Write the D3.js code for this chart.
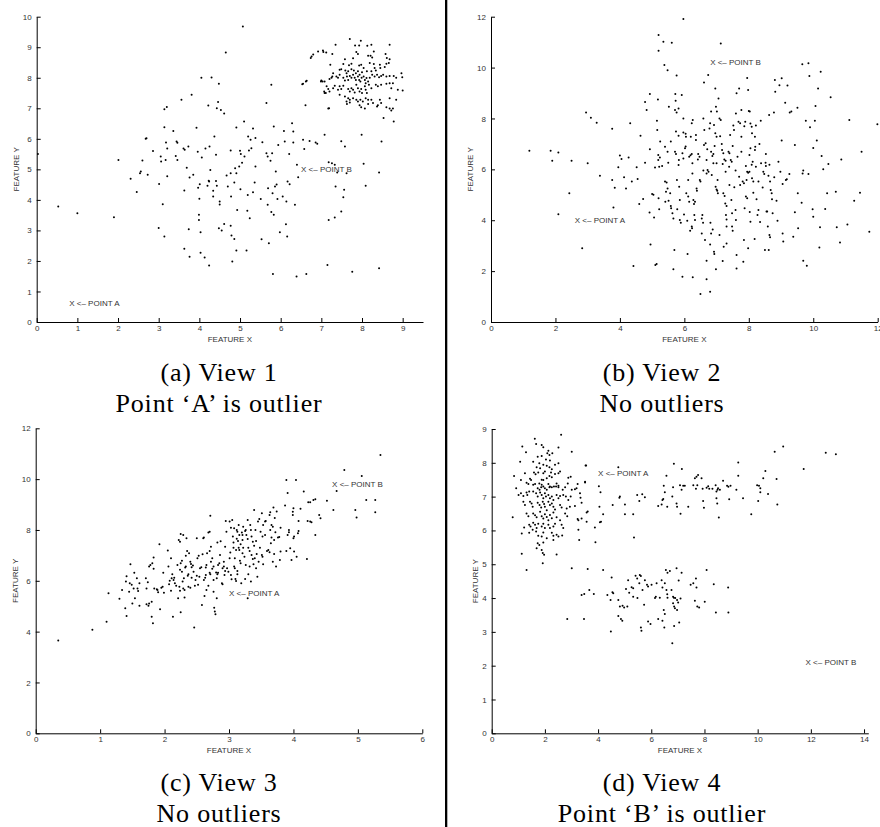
<!DOCTYPE html>
<html>
<head>
<meta charset="utf-8">
<script src="https://cdn.jsdelivr.net/npm/d3@7"></script>
<style>
  body { margin: 0; background: #fff; }
  svg { display: block; }
</style>
</head>
<body>
<svg id="fig" width="880" height="827"></svg>
<script>
// view 1: wide blob plus a tight cluster at the top right
var view1Points = [
  [0.03,5.5],[0.53,3.78],[1.0,3.56],[1.9,3.43],[2.01,5.31],[2.31,4.69],[2.46,4.26],[2.54,4.87],[2.56,4.93],[2.6,5.29],
  [2.7,6.02],[2.68,6.0],[2.73,4.82],[2.86,5.6],[3.01,4.52],[3.0,3.08],[3.05,5.42],[3.06,5.26],[3.1,3.86],[3.14,6.38],
  [3.14,2.8],[3.14,6.97],[3.2,7.04],[3.17,5.31],[3.18,5.88],[3.21,5.68],[3.21,4.77],[3.36,6.26],[3.44,5.91],[3.46,5.87],
  [3.42,5.44],[3.46,5.31],[3.56,7.28],[3.61,5.68],[3.64,5.64],[3.63,4.31],[3.63,2.4],[3.69,5.05],[3.73,5.75],[3.74,3.04],
  [3.76,4.73],[3.76,2.14],[3.81,7.44],[3.85,4.82],[3.93,6.36],[3.96,5.58],[3.97,4.4],[3.99,3.51],[3.99,3.34],[4.0,4.04],
  [4.01,4.51],[4.03,2.94],[4.03,2.27],[4.05,8.0],[4.06,5.39],[4.13,2.11],[4.15,5.68],[4.2,4.46],[4.22,7.09],[4.23,4.63],
  [4.24,4.6],[4.24,1.85],[4.25,5.75],[4.27,4.98],[4.3,8.01],[4.34,4.3],[4.34,4.11],[4.37,6.08],[4.41,5.48],[4.41,4.62],
  [4.43,4.46],[4.43,7.0],[4.46,7.21],[4.48,7.8],[4.48,3.07],[4.5,3.95],[4.5,3.85],[4.53,6.94],[4.55,3.0],[4.61,6.83],
  [4.61,3.21],[4.65,8.83],[4.67,4.8],[4.7,4.44],[4.77,5.62],[4.77,4.87],[4.77,3.15],[4.78,4.11],[4.79,2.83],[4.81,1.98],
  [4.86,2.72],[4.86,4.57],[4.88,5.04],[4.91,2.34],[4.91,6.37],[4.91,4.87],[4.93,3.67],[4.98,5.09],[5.0,5.61],[5.02,5.5],
  [5.01,4.35],[5.05,5.22],[5.07,9.68],[5.1,6.57],[5.11,5.42],[5.16,2.34],[5.18,3.64],[5.2,6.08],[5.19,4.16],[5.22,5.62],
  [5.24,3.4],[5.26,5.97],[5.28,5.69],[5.32,4.25],[5.32,6.34],[5.36,4.57],[5.38,6.03],[5.38,5.09],[5.51,4.03],[5.53,2.71],
  [5.55,5.89],[5.65,7.17],[5.65,5.53],[5.68,5.42],[5.68,3.84],[5.69,4.38],[5.71,2.58],[5.75,5.28],[5.77,3.6],[5.77,7.77],
  [5.79,5.53],[5.8,4.22],[5.81,1.57],[5.83,6.4],[5.83,3.51],[5.86,4.44],[5.88,4.93],[5.9,4.5],[5.92,4.03],[5.94,5.8],
  [5.98,2.94],[6.05,4.11],[6.08,6.26],[6.1,5.91],[6.13,3.2],[6.14,3.95],[6.16,2.8],[6.17,4.6],[6.21,5.5],[6.22,4.51],
  [6.28,6.51],[6.31,6.24],[6.31,5.88],[6.35,3.84],[6.39,1.49],[6.4,5.15],[6.43,4.74],[6.55,5.97],[6.58,5.67],[6.61,7.1],
  [6.63,1.57],[6.71,5.93],[6.86,5.88],[6.9,5.84],[7.08,6.13],[7.18,5.23],[7.26,5.2],[7.33,5.15],[7.18,3.34],[7.15,1.87],
  [7.33,3.42],[7.35,4.44],[7.39,4.9],[7.49,5.92],[7.49,3.62],[7.54,4.09],[7.56,4.33],[7.58,5.75],[7.62,4.87],[7.76,1.65],
  [7.99,6.13],[8.04,5.18],[8.09,4.46],[8.42,4.9],[8.42,1.76],[8.48,5.91],[8.53,6.68],[8.78,6.57],
  [6.53,7.79],[6.64,7.9],[7.08,7.5],[7.19,7.0],[7.05,8.84],[6.99,7.88],
  [7.70,9.27],[7.97,9.21],[7.83,9.06],[7.93,9.06],[7.35,9.08],[8.13,9.05],[8.23,9.08],[8.68,9.08],[8.29,8.86],[7.04,8.89],
  [7.12,8.83],[7.27,8.78],[6.92,8.86],[6.80,8.76],[6.76,8.7],[6.74,8.65],[7.86,8.84],[7.9,8.78],[7.78,8.64],[8.15,8.72],
  [8.21,8.72],[8.25,8.66],[8.58,8.78],[8.61,8.65],[8.68,8.61],[7.58,8.61],[7.22,8.43],[7.54,8.45],[7.68,8.41],[7.74,8.46],
  [7.93,8.4],[7.98,8.43],[8.04,8.32],[8.19,8.48],[8.29,8.45],[8.31,8.32],[8.44,8.43],[8.45,8.32],[8.56,8.35],[8.6,8.46],
  [8.66,8.48],[7.45,8.26],[7.49,8.28],[7.59,8.24],[7.62,8.15],[7.66,8.21],[7.74,8.28],[7.8,8.24],[7.85,8.15],[7.9,8.21],
  [7.94,8.1],[8.0,8.18],[8.12,8.21],[8.23,8.21],[8.34,8.24],[7.29,8.15],[7.27,8.04],[7.08,7.88],[7.03,7.88],[7.0,7.91],
  [7.2,7.96],[7.25,8.0],[7.37,8.04],[7.41,8.0],[7.45,8.1],[7.54,8.0],[7.58,7.91],[7.63,8.04],[7.66,7.93],[7.7,8.06],
  [7.74,8.0],[7.78,8.1],[7.82,8.0],[7.85,7.93],[7.9,8.04],[7.93,7.93],[7.96,7.88],[7.99,8.0],[8.04,8.04],[8.07,7.93],
  [8.09,7.82],[8.11,7.99],[8.15,7.88],[8.19,8.0],[8.25,8.1],[8.31,8.04],[8.37,8.1],[8.42,8.02],[8.47,8.06],[8.52,8.1],
  [8.6,8.04],[8.68,8.06],[8.78,8.06],[8.84,8.0],[8.97,8.15],[8.99,8.02],[6.62,7.88],[6.55,7.8],[7.13,7.72],[7.17,7.63],
  [7.29,7.66],[7.33,7.74],[7.41,7.61],[7.45,7.72],[7.49,7.63],[7.54,7.74],[7.66,7.63],[7.7,7.55],[7.74,7.66],[7.78,7.61],
  [7.82,7.52],[7.86,7.77],[7.9,7.66],[7.94,7.55],[7.98,7.63],[8.0,7.5],[8.07,7.72],[8.09,7.61],[8.12,7.5],[8.17,7.77],
  [8.23,7.66],[8.34,7.77],[8.39,7.72],[8.47,7.77],[8.6,7.8],[8.68,7.82],[8.76,7.82],[8.72,7.66],[8.88,7.61],[9.0,7.58],
  [7.07,7.55],[7.11,7.5],[7.2,7.55],[7.45,7.44],[7.58,7.39],[7.66,7.33],[7.7,7.28],[7.78,7.33],[7.86,7.28],[7.9,7.22],
  [7.96,7.28],[8.02,7.22],[8.09,7.33],[8.15,7.28],[8.23,7.28],[8.27,7.17],[8.44,7.28],[8.47,7.17],[8.68,7.33],[8.84,7.28],
  [7.17,6.99],[7.62,7.22],[7.63,7.14],[7.7,7.19],[7.94,7.1],[7.98,7.03],[8.07,6.99],[8.15,7.14],[8.37,7.06],[8.39,7.1],
  [8.6,7.03],[8.68,6.99],[8.72,6.93],[8.76,6.99]
];

// view 2: one broad round cloud
var view2Points = [
  [1.19,6.73],[1.85,6.73],[1.9,6.34],[2.09,6.66],[2.09,4.24],[2.43,5.06],[2.5,6.34],[2.83,2.9],[2.95,8.23],[3.0,6.24],
  [3.1,8.03],[3.28,7.83],[3.38,5.75],[3.76,7.6],[3.76,5.58],[3.8,4.5],[3.84,5.28],[3.95,6.08],[4.0,6.54],[4.05,6.41],
  [4.13,5.69],[4.19,5.25],[4.27,6.47],[4.32,7.81],[4.37,5.52],[4.42,2.2],[4.52,6.08],[4.55,5.62],[4.6,4.64],[4.64,7.32],
  [4.72,4.83],[4.78,8.65],[4.83,8.33],[4.78,6.26],[4.92,4.3],[4.93,6.79],[4.93,8.96],[4.95,3.05],[5.0,5.03],[5.04,5.0],
  [5.06,4.11],[5.09,6.07],[5.1,2.24],[5.14,2.28],[5.15,7.91],[5.16,7.55],[5.18,8.75],[5.2,11.28],[5.2,10.66],[5.19,6.56],
  [5.22,6.1],[5.19,6.37],[5.24,6.47],[5.2,4.86],[5.22,4.43],[5.25,7.09],[5.31,6.13],[5.35,11.02],[5.38,10.1],[5.4,6.89],
  [5.4,5.52],[5.45,5.48],[5.48,5.25],[5.43,5.12],[5.41,4.73],[5.48,9.9],[5.48,6.69],[5.5,6.26],[5.51,4.77],[5.52,8.46],
  [5.56,5.06],[5.58,7.09],[5.58,4.56],[5.59,4.47],[5.61,10.98],[5.63,4.27],[5.66,4.07],[5.66,2.07],[5.69,2.83],[5.71,8.33],
  [5.71,6.69],[5.74,6.6],[5.72,8.96],[5.73,8.7],[5.74,7.49],[5.76,9.69],[5.76,8.23],[5.77,5.58],[5.78,4.43],[5.82,7.32],
  [5.82,8.39],[5.83,6.37],[5.82,6.17],[5.84,5.32],[5.86,4.8],[5.86,4.01],[5.89,3.9],[5.92,8.92],[5.94,6.63],[5.97,6.43],
  [5.94,1.78],[5.97,11.91],[5.97,8.0],[5.97,7.45],[5.99,4.23],[6.02,6.83],[6.04,6.9],[6.04,7.4],[6.05,7.28],[6.06,5.06],
  [6.09,3.98],[6.1,2.67],[6.12,5.58],[6.12,4.93],[6.15,4.73],[6.15,6.5],[6.19,6.55],[6.18,3.59],[6.2,7.28],[6.23,7.81],
  [6.26,7.94],[6.23,3.75],[6.24,3.68],[6.23,6.6],[6.25,6.24],[6.25,5.84],[6.26,1.76],[6.28,4.8],[6.3,4.64],[6.33,4.73],
  [6.31,4.21],[6.33,4.01],[6.36,7.35],[6.36,7.15],[6.38,5.25],[6.39,5.16],[6.42,6.39],[6.43,6.6],[6.47,6.5],[6.48,5.58],
  [6.5,5.52],[6.5,1.1],[6.54,4.07],[6.54,3.48],[6.56,4.21],[6.58,3.9],[6.59,8.0],[6.61,9.41],[6.61,6.96],[6.59,5.95],
  [6.62,7.55],[6.64,3.22],[6.66,7.03],[6.69,5.84],[6.69,6.37],[6.69,2.41],[6.69,1.68],[6.71,6.79],[6.72,5.97],[6.75,5.91],
  [6.74,9.71],[6.78,7.61],[6.8,7.81],[6.8,3.05],[6.8,1.19],[6.81,3.9],[6.83,3.48],[6.83,8.27],[6.83,6.69],[6.87,6.52],
  [6.9,6.6],[6.85,5.78],[6.9,6.24],[6.88,3.64],[6.92,2.76],[6.93,2.67],[6.92,7.74],[6.94,6.92],[6.96,9.18],[6.96,7.42],
  [7.0,7.28],[6.97,5.32],[7.0,5.21],[7.02,5.16],[7.04,5.06],[6.98,8.46],[7.01,8.27],[6.98,2.07],[7.0,6.24],[7.03,5.58],
  [7.06,8.78],[7.09,8.0],[7.13,7.94],[7.09,3.42],[7.11,7.3],[7.13,10.95],[7.16,7.0],[7.17,6.76],[7.21,6.63],[7.19,6.21],
  [7.19,2.4],[7.21,5.06],[7.25,4.95],[7.22,2.96],[7.24,6.39],[7.28,6.34],[7.27,4.66],[7.31,4.56],[7.28,5.91],[7.29,4.21],
  [7.31,4.03],[7.31,3.09],[7.31,3.75],[7.37,6.69],[7.4,6.63],[7.39,6.1],[7.4,5.38],[7.42,7.35],[7.44,6.37],[7.47,6.3],
  [7.46,4.8],[7.48,4.27],[7.48,3.75],[7.5,3.59],[7.5,6.92],[7.52,7.72],[7.54,7.55],[7.55,5.3],[7.59,5.95],[7.59,4.4],
  [7.6,4.01],[7.6,8.2],[7.62,2.63],[7.62,2.1],[7.62,8.99],[7.7,9.18],[7.65,6.5],[7.68,7.87],[7.73,7.81],[7.77,8.33],
  [7.7,5.71],[7.73,5.38],[7.77,7.28],[7.77,6.69],[7.81,5.52],[7.85,5.45],[7.83,2.37],[7.85,3.22],[7.86,7.69],[7.89,7.87],
  [7.87,4.47],[7.91,4.93],[7.95,4.86],[7.91,6.13],[7.93,5.58],[7.95,9.59],[7.95,5.91],[7.98,5.87],[8.02,5.91],[7.98,2.9],
  [7.98,9.12],[8.0,8.29],[8.03,8.27],[8.02,6.56],[8.05,6.83],[8.03,4.32],[8.05,3.94],[8.05,7.8],[8.09,7.67],[8.09,6.18],
  [8.12,6.3],[8.1,5.65],[8.14,5.52],[8.1,7.42],[8.14,5.08],[8.18,3.26],[8.19,7.28],[8.22,7.72],[8.2,6.89],[8.19,6.76],
  [8.22,6.1],[8.24,4.82],[8.27,4.21],[8.3,4.4],[8.3,5.52],[8.33,7.0],[8.35,3.93],[8.37,7.91],[8.38,6.24],[8.43,5.29],
  [8.45,5.91],[8.48,5.82],[8.5,2.83],[8.52,6.26],[8.53,6.13],[8.53,6.6],[8.55,4.34],[8.57,4.34],[8.59,3.75],[8.61,5.75],
  [8.62,2.83],[8.63,8.14],[8.64,6.18],[8.66,5.52],[8.64,3.42],[8.66,3.33],[8.68,5.19],[8.71,5.06],[8.72,4.82],[8.74,4.27],
  [8.78,8.23],[8.79,5.69],[8.81,9.51],[8.82,9.05],[8.86,4.77],[8.89,3.98],[8.92,6.3],[8.95,9.31],[8.98,5.91],[9.02,9.58],
  [9.02,7.13],[9.05,5.42],[9.05,3.48],[9.07,3.16],[9.13,8.62],[9.15,5.58],[9.18,5.61],[9.2,9.3],[9.27,8.23],[9.32,8.27],
  [9.26,5.82],[9.38,3.35],[9.43,6.96],[9.43,4.31],[9.51,8.42],[9.52,5.06],[9.53,3.68],[9.64,4.69],[9.66,10.13],[9.67,5.84],
  [9.69,5.95],[9.69,2.41],[9.77,7.91],[9.8,2.21],[9.85,10.17],[9.85,5.82],[9.88,9.67],[9.9,7.65],[9.98,4.43],[10.0,4.14],
  [10.0,6.84],[10.05,7.91],[10.07,8.49],[10.11,7.13],[10.15,9.18],[10.19,2.93],[10.21,3.72],[10.23,9.84],[10.26,6.52],[10.31,6.0],
  [10.37,4.44],[10.43,5.06],[10.47,6.21],[10.54,8.83],[10.7,5.12],[10.73,3.72],[10.83,3.12],[10.87,6.39],[11.06,3.83],[11.12,7.94],
  [11.27,4.77],[11.45,5.08],[11.5,6.69],[11.74,3.55],[11.99,7.77]
];

// view 3: elongated diagonal cloud
var view3Points = [
  [0.35,3.65],[0.88,4.07],[1.1,4.39],[1.13,5.51],[1.3,5.29],[1.34,5.64],[1.39,4.92],[1.4,5.97],[1.41,6.18],[1.41,4.62],
  [1.45,5.57],[1.46,5.9],[1.47,6.65],[1.49,5.84],[1.5,5.11],[1.52,5.7],[1.53,6.32],[1.54,5.31],[1.57,6.1],[1.58,5.7],
  [1.59,5.6],[1.61,5.9],[1.61,5.02],[1.72,5.7],[1.71,6.1],[1.72,5.08],[1.75,5.02],[1.76,5.11],[1.74,5.94],[1.76,6.56],
  [1.78,6.62],[1.8,5.18],[1.8,4.59],[1.81,6.69],[1.82,4.33],[1.83,6.92],[1.83,6.47],[1.84,5.7],[1.88,5.67],[1.89,5.64],
  [1.9,5.55],[1.92,7.44],[1.93,4.88],[1.95,5.73],[1.97,5.77],[1.98,6.32],[1.99,5.53],[2.05,7.19],[2.06,6.56],[2.07,5.86],
  [2.08,6.0],[2.1,5.61],[2.1,6.89],[2.11,6.1],[2.12,6.26],[2.13,4.59],[2.14,6.03],[2.15,6.12],[2.16,5.9],[2.18,5.81],
  [2.2,6.62],[2.21,5.31],[2.22,7.61],[2.24,7.54],[2.25,7.84],[2.29,7.8],[2.23,5.77],[2.24,5.61],[2.24,6.43],[2.27,6.36],
  [2.25,4.76],[2.25,6.69],[2.27,6.79],[2.28,5.97],[2.3,6.1],[2.29,5.7],[2.31,5.64],[2.31,5.34],[2.32,6.52],[2.33,6.56],
  [2.33,6.99],[2.34,7.67],[2.35,7.17],[2.38,7.08],[2.36,6.2],[2.37,6.26],[2.37,5.77],[2.4,5.73],[2.4,6.75],[2.41,6.66],
  [2.42,6.12],[2.45,6.36],[2.42,6.53],[2.44,6.6],[2.46,4.16],[2.47,5.81],[2.48,6.03],[2.5,6.2],[2.5,7.67],[2.51,6.89],
  [2.53,6.99],[2.52,5.84],[2.54,6.16],[2.55,6.49],[2.57,6.53],[2.58,5.05],[2.59,7.04],[2.6,7.67],[2.61,7.7],[2.61,6.03],
  [2.62,5.4],[2.63,6.12],[2.64,6.23],[2.64,6.52],[2.65,6.62],[2.65,5.64],[2.66,7.08],[2.68,7.9],[2.7,7.93],[2.68,5.81],
  [2.7,6.32],[2.71,6.26],[2.7,7.17],[2.71,8.56],[2.72,7.34],[2.72,6.75],[2.74,6.89],[2.74,6.47],[2.76,6.56],[2.76,6.03],
  [2.76,5.57],[2.77,4.94],[2.78,4.79],[2.79,4.68],[2.8,6.33],[2.82,6.26],[2.83,6.32],[2.81,6.1],[2.81,5.31],[2.82,7.51],
  [2.83,6.62],[2.85,6.69],[2.86,7.02],[2.87,7.56],[2.89,5.9],[2.9,5.86],[2.9,6.49],[2.92,6.56],[2.92,6.75],[2.93,6.23],
  [2.94,6.39],[2.94,7.34],[2.95,8.35],[2.96,7.93],[2.97,6.49],[2.99,6.36],[3.01,8.33],[3.01,6.89],[3.02,7.11],[3.03,8.09],
  [3.03,6.23],[3.04,6.06],[3.05,8.39],[3.06,7.74],[3.07,7.51],[3.07,7.3],[3.08,6.56],[3.09,6.49],[3.08,8.07],[3.09,6.89],
  [3.1,6.07],[3.11,5.99],[3.11,7.21],[3.12,8.0],[3.13,7.93],[3.12,7.65],[3.14,7.57],[3.13,6.39],[3.13,6.26],[3.15,7.3],
  [3.16,7.21],[3.15,8.2],[3.16,7.8],[3.17,6.79],[3.18,6.69],[3.18,7.44],[3.19,5.9],[3.2,7.9],[3.21,7.8],[3.21,7.08],
  [3.21,7.61],[3.22,8.13],[3.22,7.3],[3.24,6.95],[3.25,7.96],[3.26,8.0],[3.25,6.07],[3.26,6.62],[3.27,7.8],[3.29,7.64],
  [3.29,5.31],[3.29,8.39],[3.3,7.3],[3.32,7.17],[3.3,6.26],[3.32,6.56],[3.33,8.2],[3.34,8.0],[3.34,5.97],[3.35,7.02],
  [3.37,6.86],[3.35,7.74],[3.37,7.54],[3.38,6.65],[3.39,7.38],[3.39,8.79],[3.4,6.89],[3.41,8.0],[3.42,7.57],[3.42,6.49],
  [3.43,7.05],[3.44,6.16],[3.45,8.33],[3.47,8.43],[3.46,6.75],[3.48,7.3],[3.49,7.93],[3.51,7.02],[3.52,6.95],[3.51,8.66],
  [3.52,7.74],[3.53,8.2],[3.53,6.65],[3.56,8.33],[3.57,8.35],[3.56,7.8],[3.59,7.17],[3.61,7.21],[3.63,7.12],[3.63,8.59],
  [3.64,8.7],[3.64,8.0],[3.65,7.48],[3.66,7.7],[3.66,8.2],[3.68,8.13],[3.68,6.75],[3.69,8.88],[3.7,7.61],[3.7,7.05],
  [3.71,8.47],[3.72,7.91],[3.73,6.56],[3.74,8.73],[3.76,7.7],[3.78,7.72],[3.79,6.82],[3.8,7.15],[3.8,8.09],[3.87,8.96],
  [3.89,9.97],[3.89,7.17],[3.91,9.45],[3.91,7.8],[3.93,7.91],[3.93,8.0],[3.95,7.28],[3.97,6.82],[3.99,8.72],[4.0,8.85],
  [3.99,8.59],[4.0,7.67],[4.01,7.74],[4.01,7.15],[4.04,9.97],[4.05,6.95],[4.07,7.87],[4.08,7.96],[4.08,8.35],[4.11,8.83],
  [4.16,9.51],[4.21,6.86],[4.22,8.35],[4.26,8.33],[4.28,8.3],[4.23,9.09],[4.26,9.09],[4.31,9.18],[4.34,9.21],[4.34,7.8],
  [4.4,8.59],[4.42,8.46],[4.52,9.15],[4.62,8.79],[4.67,9.53],[4.79,10.36],[4.96,8.79],[4.98,8.49],[5.06,10.12],[5.13,9.18],
  [5.27,9.18],[5.27,8.7],[5.35,10.95]
];

// view 4: dense left cluster, upper band, lower cluster
var view4Points = [
  [2.61,8.83],[1.62,8.71],[1.67,8.56],[1.15,8.48],[1.88,8.53],[1.94,8.46],[2.13,8.36],[2.09,8.28],[2.17,8.23],[2.51,8.45],
  [1.29,8.31],[2.28,8.28],[1.73,8.18],[1.88,8.2],[3.01,8.33],[2.04,8.1],[2.19,8.07],[1.56,8.03],[1.07,8.03],[1.79,7.99],
  [1.94,7.94],[2.07,7.91],[2.38,7.94],[2.51,7.99],[3.55,7.92],[1.69,7.87],[1.82,7.84],[2.17,7.87],[2.26,7.81],[1.25,7.69],
  [1.59,7.71],[1.65,7.66],[1.75,7.71],[1.94,7.69],[2.0,7.74],[2.23,7.71],[2.38,7.67],[2.51,7.69],[2.57,7.74],[2.88,7.56],
  [2.97,7.59],[0.84,7.61],[1.44,7.53],[1.48,7.49],[1.88,7.5],[1.94,7.49],[2.07,7.54],[2.17,7.61],[2.26,7.57],[1.1,7.49],
  [1.31,7.41],[1.38,7.37],[1.56,7.35],[1.63,7.37],[1.79,7.39],[1.88,7.35],[2.13,7.37],[2.19,7.3],[2.44,7.39],[2.51,7.32],
  [2.86,7.39],[3.23,7.37],[3.51,7.42],[0.92,7.25],[1.73,7.25],[1.8,7.2],[1.86,7.28],[1.94,7.3],[2.0,7.25],[2.07,7.2],
  [2.17,7.28],[2.26,7.28],[2.34,7.3],[2.42,7.3],[2.51,7.28],[2.76,7.28],[2.67,7.2],[3.01,7.2],[3.13,7.22],[3.19,7.25],
  [1.01,7.05],[1.1,7.1],[1.19,7.02],[1.31,7.12],[1.34,7.05],[1.41,7.15],[1.56,7.15],[1.67,7.1],[1.73,7.0],[1.82,7.12],
  [1.88,7.05],[1.94,6.95],[2.0,7.1],[2.04,7.0],[2.13,7.05],[2.19,6.95],[2.26,7.0],[2.32,6.9],[2.44,7.05],[2.51,6.95],
  [2.57,7.02],[2.69,7.05],[2.79,7.0],[2.88,6.9],[2.97,7.0],[3.32,7.1],[1.19,6.85],[1.25,6.75],[1.44,6.85],[1.5,6.8],
  [1.54,6.7],[1.73,6.82],[1.8,6.75],[1.86,6.68],[1.92,6.85],[1.97,6.78],[2.0,6.7],[2.07,6.6],[2.13,6.85],[2.19,6.75],
  [2.26,6.8],[2.32,6.7],[2.38,6.62],[2.57,6.75],[2.63,6.68],[2.82,6.65],[2.94,6.7],[3.13,6.72],[0.79,6.39],[1.31,6.5],
  [1.38,6.42],[1.56,6.5],[1.63,6.45],[1.69,6.39],[1.82,6.55],[1.88,6.42],[1.94,6.35],[2.0,6.48],[2.07,6.4],[2.13,6.3],
  [2.19,6.46],[2.26,6.36],[2.32,6.53],[2.44,6.39],[2.57,6.3],[2.76,6.5],[2.84,6.42],[3.26,6.3],[3.38,6.35],[3.57,6.53],
  [1.22,6.09],[1.41,6.17],[1.46,6.12],[1.56,6.23],[1.63,6.17],[1.69,6.07],[1.75,6.2],[1.88,6.12],[1.94,6.2],[2.0,6.07],
  [2.13,6.17],[2.19,6.07],[2.32,6.12],[2.38,6.2],[2.63,6.17],[2.69,6.07],[3.26,6.02],[1.13,5.91],[1.41,5.93],[1.54,6.02],
  [1.67,5.97],[1.75,5.84],[1.88,5.82],[1.94,5.94],[2.07,5.77],[2.26,5.93],[2.32,5.84],[2.51,5.82],[1.73,5.62],[1.79,5.57],
  [1.94,5.64],[1.69,5.47],[1.88,5.42],[2.32,5.72],[3.9,5.65],[1.92,5.33],[1.97,5.28],[1.13,5.31],[2.44,5.87],
  [1.92,5.03],[1.31,4.83],[2.44,5.29],[3.01,4.88],[3.61,4.86],[2.84,3.38],[3.38,4.09],[3.48,4.12],[3.47,3.38],[3.67,4.24],
  [3.84,4.12],[3.88,6.09],[3.51,7.44],[3.53,7.92],[3.61,6.56],[3.57,6.26],[3.34,6.97],[3.38,6.82],[3.23,6.34],[3.29,5.72],
  [2.65,5.85],
  [4.03,7.31],[4.09,7.13],[4.05,6.7],[4.19,6.48],[4.07,6.24],[4.11,6.26],[4.55,6.75],[4.76,7.87],[4.8,6.97],[4.82,7.0],
  [5.01,6.77],[5.01,6.48],[5.32,6.48],[5.35,5.79],[5.47,7.05],[5.55,6.87],[5.66,7.07],[5.76,6.98],[6.26,6.72],[6.39,6.77],
  [6.42,6.9],[6.45,6.93],[6.47,7.32],[6.51,7.13],[6.57,7.62],[6.6,6.7],[6.79,7.0],[6.82,7.28],[6.85,7.97],[6.95,6.8],
  [6.97,6.7],[7.08,7.34],[7.14,7.2],[7.2,7.32],[7.1,6.49],[7.15,7.82],[7.26,7.32],[7.39,6.7],[7.58,7.34],[7.64,7.54],
  [7.7,7.59],[7.76,7.64],[7.68,7.23],[7.73,7.34],[7.89,7.54],[7.93,7.23],[7.95,6.87],[7.98,6.67],[8.08,7.26],[8.14,7.31],
  [8.18,7.23],[8.3,7.23],[8.42,7.34],[8.45,7.15],[8.49,7.2],[8.51,7.25],[8.45,6.95],[8.48,6.8],[8.54,6.38],[8.58,7.2],
  [8.7,7.47],[8.85,7.32],[8.9,7.29],[8.98,7.32],[8.93,6.92],[9.2,7.2],[9.27,8.01],[9.27,7.62],[9.45,6.95],[9.76,6.48],
  [9.98,7.34],[10.05,7.32],[10.1,7.25],[10.1,7.13],[10.02,6.87],[10.21,7.54],[10.29,7.76],[10.39,7.08],[10.64,8.33],[10.71,7.52],
  [10.74,6.77],[10.96,8.48],[11.73,7.82],[12.56,8.3],[12.94,8.25],
  [4.19,4.83],[4.35,4.09],[4.51,4.61],[4.47,3.94],[4.48,3.01],[4.54,4.17],[4.57,4.14],[4.76,3.94],[4.76,3.47],[4.86,3.38],
  [4.91,3.33],[4.82,3.75],[4.92,3.77],[4.98,3.72],[5.05,4.27],[5.1,3.75],[5.13,4.53],[5.17,4.16],[5.26,4.32],[5.32,4.29],
  [5.32,4.04],[5.41,4.66],[5.47,4.58],[5.48,4.0],[5.55,4.44],[5.57,4.68],[5.61,4.65],[5.61,3.13],[5.63,3.03],[5.67,4.24],
  [5.73,3.8],[5.76,4.53],[5.84,4.39],[5.88,4.34],[5.88,3.31],[5.97,3.23],[6.01,4.39],[6.14,4.0],[6.17,4.04],[6.2,4.44],
  [6.26,3.38],[6.32,4.01],[6.39,4.53],[6.42,4.31],[6.42,3.33],[6.47,3.65],[6.51,3.53],[6.49,3.13],[6.51,4.44],[6.55,4.83],
  [6.61,4.75],[6.57,4.24],[6.6,4.11],[6.61,4.01],[6.7,4.8],[6.76,4.24],[6.79,2.66],[6.82,4.04],[6.85,4.01],[6.9,4.0],
  [6.82,3.85],[6.86,3.75],[6.89,3.7],[6.86,3.17],[6.95,4.88],[6.97,3.94],[7.01,3.87],[6.97,3.65],[7.03,4.52],[7.05,3.28],
  [7.1,3.99],[7.14,4.75],[7.48,4.39],[7.58,4.44],[7.64,3.92],[7.68,4.58],[7.7,4.31],[7.73,3.75],[7.8,3.72],[8.01,3.89],
  [8.08,4.83],[8.35,4.41],[8.43,3.57],[8.89,4.31],[8.9,3.57]
];

// tick values per view
var view1XTicks = [0, 1, 2, 3, 4, 5, 6, 7, 8, 9];
var view1YTicks = [0, 1, 2, 3, 4, 5, 6, 7, 8, 9, 10];
var view2XTicks = [0, 2, 4, 6, 8, 10, 12];
var view2YTicks = [0, 2, 4, 6, 8, 10, 12];
var view3XTicks = [0, 1, 2, 3, 4, 5, 6];
var view3YTicks = [0, 2, 4, 6, 8, 10, 12];
var view4XTicks = [0, 2, 4, 6, 8, 10, 12, 14];
var view4YTicks = [0, 1, 2, 3, 4, 5, 6, 7, 8, 9];

// where the two labelled points sit in each view
var view1Notes = [{ label: 'X <\u2013 POINT A', x: 0.8, y: 0.6 }, { label: 'X <\u2013 POINT B', x: 6.5, y: 5.0 }];
var view2Notes = [{ label: 'X <\u2013 POINT A', x: 2.6, y: 4.0 }, { label: 'X <\u2013 POINT B', x: 6.8, y: 10.2 }];
var view3Notes = [{ label: 'X <\u2013 POINT A', x: 3.0, y: 5.5 }, { label: 'X <\u2013 POINT B', x: 4.6, y: 9.8 }];
var view4Notes = [{ label: 'X <\u2013 POINT A', x: 4.0, y: 7.7 }, { label: 'X <\u2013 POINT B', x: 11.8, y: 2.1 }];

var captions = [
  ['(a) View 1', 'Point \u2018A\u2019 is outlier'],
  ['(b) View 2', 'No outliers'],
  ['(c) View 3', 'No outliers'],
  ['(d) View 4', 'Point \u2018B\u2019 is outlier']
];

var sans = "'Liberation Sans', Arial, Helvetica, sans-serif";
var serif = "'Liberation Serif', 'Times New Roman', serif";

var svg = d3.select('#fig');

// each panel: pixel box of the axes, axis maxima, caption anchor
var panels = [
  { pts: view1Points, xt: view1XTicks, yt: view1YTicks, xMax: 9.5, yMax: 10, notes: view1Notes, cap: captions[0],
    left: 36.7, right: 423, top: 16.7, bottom: 322, yTitleGap: 21, capX: 219, capY: 381 },
  { pts: view2Points, xt: view2XTicks, yt: view2YTicks, xMax: 12, yMax: 12, notes: view2Notes, cap: captions[1],
    left: 491, right: 877.7, top: 16.7, bottom: 322, yTitleGap: 21, capX: 662, capY: 381 },
  { pts: view3Points, xt: view3XTicks, yt: view3YTicks, xMax: 6, yMax: 12, notes: view3Notes, cap: captions[2],
    left: 35.7, right: 422.3, top: 428.3, bottom: 733.3, yTitleGap: 21, capX: 219, capY: 791 },
  { pts: view4Points, xt: view4XTicks, yt: view4YTicks, xMax: 14.16, yMax: 9, notes: view4Notes, cap: captions[3],
    left: 491.7, right: 868.3, top: 429, bottom: 733.3, yTitleGap: 17, capX: 662, capY: 791 }
];

panels.forEach(function (p) {
  var x = d3.scaleLinear().domain([0, p.xMax]).range([p.left, p.right]);
  var y = d3.scaleLinear().domain([0, p.yMax]).range([p.bottom, p.top]);

  // ticks point inward, no box
  var gx = svg.append('g')
    .attr('transform', 'translate(0,' + p.bottom + ')')
    .call(d3.axisBottom(x).tickValues(p.xt).tickFormat(d3.format('d'))
      .tickSizeInner(-4).tickSizeOuter(0).tickPadding(3));
  var gy = svg.append('g')
    .attr('transform', 'translate(' + p.left + ',0)')
    .call(d3.axisLeft(y).tickValues(p.yt).tickFormat(d3.format('d'))
      .tickSizeInner(-4).tickSizeOuter(0).tickPadding(5));

  [gx, gy].forEach(function (g) {
    g.attr('font-family', sans).attr('font-size', 8);
    g.selectAll('path, line').attr('stroke', '#000').attr('stroke-width', 1);
    g.selectAll('text').attr('fill', '#333');
  });

  svg.append('text')
    .attr('x', (p.left + p.right) / 2)
    .attr('y', p.bottom + 20)
    .attr('text-anchor', 'middle')
    .attr('font-family', sans).attr('font-size', 8).attr('fill', '#333')
    .text('FEATURE X');

  var yc = (p.top + p.bottom) / 2;
  svg.append('text')
    .attr('transform', 'translate(' + (p.left - p.yTitleGap) + ',' + yc + ') rotate(-90)')
    .attr('dy', '0.35em')
    .attr('text-anchor', 'middle')
    .attr('font-family', sans).attr('font-size', 8).attr('fill', '#333')
    .text('FEATURE Y');

  svg.append('g')
    .selectAll('circle')
    .data(p.pts)
    .enter()
      .append('circle')
      .attr('cx', d => x(d[0]))
      .attr('cy', d => y(d[1]))
      .attr('r', 1)
      .attr('fill', '#000');

  svg.append('g')
    .selectAll('text')
    .data(p.notes)
    .enter()
      .append('text')
      .attr('x', d => x(d.x))
      .attr('y', d => y(d.y))
      .attr('dy', '0.35em')
      .attr('font-family', sans).attr('font-size', 8).attr('fill', '#333')
      .text(d => d.label);

  // two-line caption under the panel
  svg.append('g')
    .selectAll('text')
    .data(p.cap)
    .enter()
      .append('text')
      .attr('x', p.capX)
      .attr('y', (d, i) => p.capY + i * 30.5)
      .attr('text-anchor', 'middle')
      .attr('font-family', serif)
      .attr('font-size', 26)
      .attr('letter-spacing', 0.8)
      .attr('fill', '#000')
      .text(d => d);
});

// divider between the left and right columns
svg.append('rect')
  .attr('x', 445)
  .attr('y', 0)
  .attr('width', 2.3)
  .attr('height', 827)
  .attr('fill', '#000');
</script>
</body>
</html>
